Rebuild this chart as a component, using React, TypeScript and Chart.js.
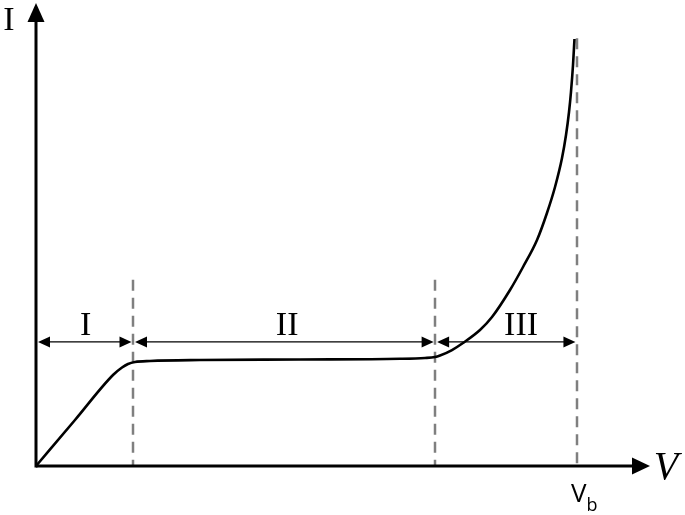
import React, { useEffect, useRef } from 'react';
import { Chart, registerables } from 'chart.js';
Chart.register(...registerables);

// I–V curve (arbitrary units: V 0..100, I 0..100)
const curveV = [0, 6.35, 12.54, 14.01, 14.98, 16.12, 18.57, 26.71, 43.0, 59.28, 63.36, 64.98, 65.8, 67.75, 69.54, 72.31, 74.27, 77.2, 79.32, 81.6, 83.22, 84.53, 85.67, 86.32, 86.81, 87.13, 87.46, 87.7];
const curveI = [0, 9.94, 19.65, 21.27, 22.03, 22.46, 22.68, 22.89, 23.0, 23.15, 23.33, 23.54, 23.87, 25.05, 26.57, 29.37, 32.18, 38.01, 42.98, 48.81, 54.64, 60.26, 66.52, 71.49, 76.46, 80.78, 86.61, 92.22];
// region boundaries on V axis
const regionBounds = [0, 15.8, 65.0, 88.1];
const regionLabels = ['I', 'II', 'III'];
const regionLabelV = [8.1, 40.9, 79.0];
const dashTops = [40.2, 40.2, 92.4];
const arrowLevel = 26.8;
const labelBaseline = 28.3;
const axisLabelX = 'V';
const axisLabelY = 'I';
const breakdownLabel = 'V';
const breakdownSub = 'b';

function arrowHead(ctx: CanvasRenderingContext2D, x: number, y: number, dir: 'l' | 'r' | 'u', len: number, half: number) {
  ctx.beginPath();
  if (dir === 'r') {
    ctx.moveTo(x, y);
    ctx.lineTo(x - len, y - half);
    ctx.lineTo(x - len, y + half);
  } else if (dir === 'l') {
    ctx.moveTo(x, y);
    ctx.lineTo(x + len, y - half);
    ctx.lineTo(x + len, y + half);
  } else {
    ctx.moveTo(x, y);
    ctx.lineTo(x - half, y + len);
    ctx.lineTo(x + half, y + len);
  }
  ctx.closePath();
  ctx.fill();
}

const decor = {
  id: 'decor',
  beforeDatasetsDraw(chart: any) {
    const ctx: CanvasRenderingContext2D = chart.ctx;
    const xs = chart.scales.x;
    const ys = chart.scales.y;
    ctx.save();
    // dashed boundaries
    ctx.strokeStyle = '#7f7f7f';
    ctx.lineWidth = 2.5;
    ctx.setLineDash([11, 7]);
    for (let i = 1; i < regionBounds.length; i++) {
      const px = Math.round(xs.getPixelForValue(regionBounds[i]));
      ctx.beginPath();
      ctx.moveTo(px, ys.getPixelForValue(dashTops[i - 1]));
      ctx.lineTo(px, ys.getPixelForValue(0));
      ctx.stroke();
    }
    ctx.setLineDash([]);
    // axes
    const x0 = xs.getPixelForValue(0);
    const y0 = ys.getPixelForValue(0);
    const xEnd = xs.getPixelForValue(xs.max);
    const yEnd = ys.getPixelForValue(ys.max);
    ctx.strokeStyle = '#000';
    ctx.fillStyle = '#000';
    ctx.lineWidth = 3;
    ctx.beginPath();
    ctx.moveTo(x0, y0);
    ctx.lineTo(xEnd - 10, y0);
    ctx.stroke();
    ctx.beginPath();
    ctx.moveTo(x0, y0 + 1.5);
    ctx.lineTo(x0, yEnd + 10);
    ctx.stroke();
    arrowHead(ctx, xEnd, y0, 'r', 18, 8.5);
    arrowHead(ctx, x0, yEnd, 'u', 19, 8.5);
    ctx.restore();
  },
  afterDatasetsDraw(chart: any) {
    const ctx: CanvasRenderingContext2D = chart.ctx;
    const xs = chart.scales.x;
    const ys = chart.scales.y;
    ctx.save();
    ctx.strokeStyle = '#000';
    ctx.fillStyle = '#000';
    ctx.lineWidth = 1.3;
    const ay = ys.getPixelForValue(arrowLevel);
    const ly = ys.getPixelForValue(labelBaseline);
    ctx.font = '34px "Liberation Serif", serif';
    ctx.textAlign = 'center';
    ctx.textBaseline = 'alphabetic';
    for (let i = 0; i < regionLabels.length; i++) {
      const a = xs.getPixelForValue(regionBounds[i]) + 2;
      const b = xs.getPixelForValue(regionBounds[i + 1]) - 1.5;
      ctx.beginPath();
      ctx.moveTo(a + 6, ay);
      ctx.lineTo(b - 6, ay);
      ctx.stroke();
      arrowHead(ctx, a, ay, 'l', 12, 5.5);
      arrowHead(ctx, b, ay, 'r', 12, 5.5);
      ctx.fillText(regionLabels[i], xs.getPixelForValue(regionLabelV[i]), ly);
    }
    // axis labels
    const x0 = xs.getPixelForValue(0);
    const y0 = ys.getPixelForValue(0);
    const xEnd = xs.getPixelForValue(xs.max);
    const yEnd = ys.getPixelForValue(ys.max);
    ctx.fillText(axisLabelY, x0 - 27, yEnd + 27);
    ctx.font = 'italic 40px "Liberation Serif", serif';
    ctx.fillText(axisLabelX, xEnd + 16, y0 + 13);
    // V_b
    const vb = xs.getPixelForValue(regionBounds[regionBounds.length - 1]);
    ctx.textAlign = 'left';
    ctx.font = '26px "Open Sans", sans-serif';
    const w = ctx.measureText(breakdownLabel).width;
    ctx.fillText(breakdownLabel, vb - 6, y0 + 36);
    ctx.font = '18px "Open Sans", sans-serif';
    ctx.fillText(breakdownSub, vb - 6 + w, y0 + 45);
    ctx.restore();
  },
};

export default function App() {
  const ref = useRef<HTMLCanvasElement>(null);
  useEffect(() => {
    if (!ref.current) return;
    const chart = new Chart(ref.current, {
      type: 'scatter',
      data: {
        datasets: [
          {
            data: curveV.map((v, i) => ({ x: v, y: curveI[i] })),
            showLine: true,
            borderColor: '#000',
            borderWidth: 2.6,
            pointRadius: 0,
            cubicInterpolationMode: 'monotone',
            clip: false as any,
          },
        ],
      },
      options: {
        animation: false,
        responsive: false,
        devicePixelRatio: 1,
        layout: { padding: { left: 36, right: 35, top: 3, bottom: 49 } },
        plugins: { legend: { display: false }, tooltip: { enabled: false } },
        scales: {
          x: { type: 'linear', min: 0, max: 100, display: false },
          y: { type: 'linear', min: 0, max: 100, display: false },
        },
      },
      plugins: [decor],
    });
    return () => chart.destroy();
  }, []);
  return (
    <div style={{ position: 'absolute', left: 0, top: 0, width: 685, height: 515, background: '#fff' }}>
      <canvas ref={ref} width={685} height={515} />
    </div>
  );
}
